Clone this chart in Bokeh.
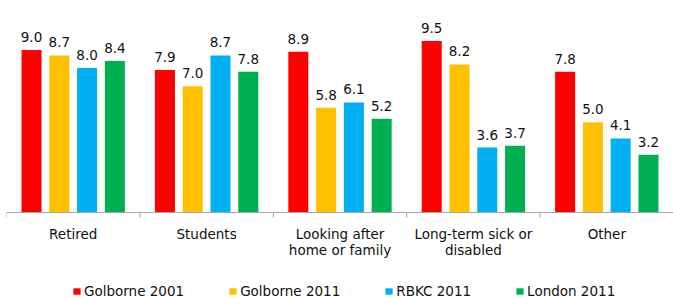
from bokeh.plotting import figure
from bokeh.models import (ColumnDataSource, Range1d, LabelSet, Legend,
                          LegendItem, Span)
from bokeh.core.properties import value
from bokeh.transform import dodge
from bokeh.embed import file_html
from bokeh.resources import INLINE
import numpy as np

categories = ["Retired", "Students", "Looking after\nhome or family",
              "Long-term sick or\ndisabled", "Other"]
series_names = ["Golborne 2001", "Golborne 2011", "RBKC 2011", "London 2011"]
golborne_2001 = [9.0, 7.9, 8.9, 9.5, 7.8]
golborne_2011 = [8.7, 7.0, 5.8, 8.2, 5.0]
rbkc_2011 = [8.0, 8.7, 6.1, 3.6, 4.1]
london_2011 = [8.4, 7.8, 5.2, 3.7, 3.2]

colors = ["#FF0000", "#FFC000", "#00B0F0", "#00B050"]
offsets = [-0.3124, -0.104, 0.104, 0.3124]
bar_width = 0.15
FONT = "DejaVu Sans"
FS = "13.5px"
TXT = "#111111"
AXIS = "#A6A6A6"

W, H = 673, 298
LEFT = 6
BASE = 212            # pixel row of the category axis
PX_PER_UNIT = 18.05   # vertical scale

n = len(categories)
centers = np.arange(n) + 0.5
line1 = [c.split("\n")[0] for c in categories]
line2 = [c.split("\n")[1] if "\n" in c else "" for c in categories]
src = ColumnDataSource(dict(
    x=centers, zero=np.zeros(n), c1=line1, c2=line2,
    s0=golborne_2001, s1=golborne_2011, s2=rbkc_2011, s3=london_2011,
    l0=[f"{v:.1f}" for v in golborne_2001],
    l1=[f"{v:.1f}" for v in golborne_2011],
    l2=[f"{v:.1f}" for v in rbkc_2011],
    l3=[f"{v:.1f}" for v in london_2011],
))

p = figure(width=W, height=H, output_backend="svg", toolbar_location=None,
           x_range=Range1d(0, n),
           y_range=Range1d(-(H - BASE) / PX_PER_UNIT, BASE / PX_PER_UNIT),
           x_axis_location=None, y_axis_location=None,
           min_border_left=LEFT, min_border_right=0, min_border_top=0,
           min_border_bottom=0)
p.xgrid.visible = False
p.ygrid.visible = False
p.outline_line_color = None

# category axis line and boundary ticks
p.add_layout(Span(location=0, dimension="width", line_color=AXIS,
                  line_width=1))
bounds = np.arange(n + 1)
p.segment(x0=bounds, x1=bounds, y0=np.zeros(n + 1),
          y1=np.full(n + 1, -5 / PX_PER_UNIT), line_color=AXIS, line_width=1)

items = []
for i in range(4):
    r = p.vbar(x=dodge("x", offsets[i], range=p.x_range), top=f"s{i}",
               width=bar_width, source=src, fill_color=colors[i],
               line_color=None)
    items.append(LegendItem(label=series_names[i], renderers=[r]))
    lab = LabelSet(x=dodge("x", offsets[i], range=p.x_range), y=f"s{i}",
                   text=f"l{i}", source=src, text_align="center",
                   text_baseline="alphabetic", y_offset=8,
                   text_font=value(FONT), text_font_size=value(FS),
                   text_color=TXT)
    p.add_layout(lab)

for col, off in (("c1", -13), ("c2", -29.7)):
    p.add_layout(LabelSet(x="x", y="zero", text=col, source=src,
                          text_align="center", text_baseline="top",
                          y_offset=off, text_font=value(FONT),
                          text_font_size=value(FS), text_color=TXT))

legend = Legend(items=items, orientation="horizontal", location=(66, -1),
                glyph_width=9, glyph_height=8, label_standoff=3, spacing=44,
                padding=0, margin=0, border_line_color=None,
                background_fill_alpha=0,
                label_text_font=FONT, label_text_font_size=FS,
                label_text_color=TXT)
p.add_layout(legend, "center")

open("out.html", "w").write(file_html(p, INLINE))
